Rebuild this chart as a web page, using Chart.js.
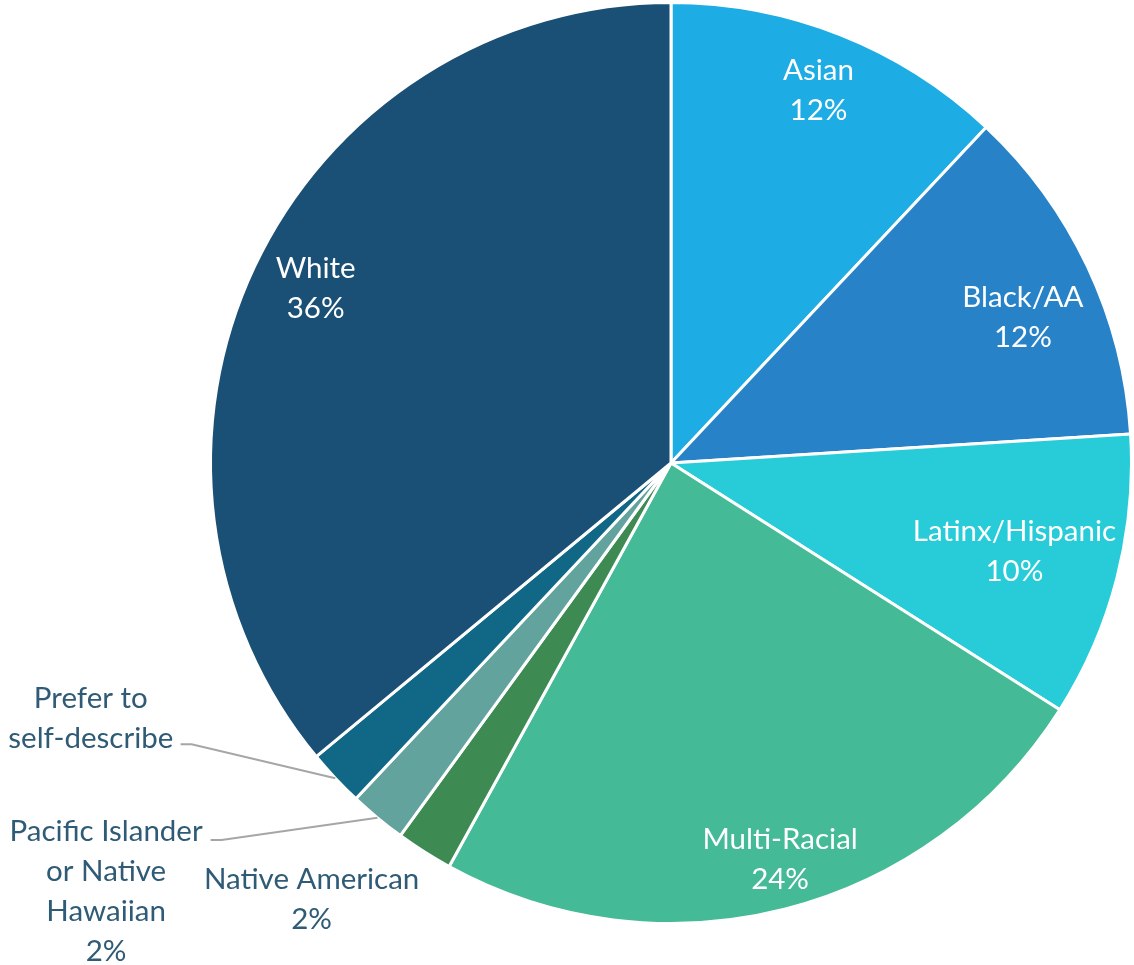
<!DOCTYPE html>
<html>
<head>
<meta charset="utf-8">
<script src="https://cdn.jsdelivr.net/npm/chart.js@4.4.0/dist/chart.umd.min.js"></script>
<style>
html,body{margin:0;padding:0;background:#fff;}
#wrap{width:1134px;height:965px;position:relative;}
</style>
</head>
<body>
<div id="wrap"><canvas id="c" width="1134" height="965"></canvas></div>
<script>
const categories = ["Asian", "Black/AA", "Latinx/Hispanic", "Multi-Racial", "Native American", "Pacific Islander or Native Hawaiian", "Prefer to self-describe", "White"];
const values = [12, 12, 10, 24, 2, 2, 2, 36];
const colors = ["#1EACE4", "#2882C7", "#28CCD8", "#44BA96", "#3E8A53", "#63A39E", "#116886", "#1A5075"];

// label text lines per slice
const labelLines = [
  ["Asian"], ["Black/AA"], ["Latinx/Hispanic"], ["Multi-Racial"],
  ["Native American"], ["Pacific Islander", "or Native", "Hawaiian"], ["Prefer to", "self-describe"], ["White"]
];
const showPercent = [true, true, true, true, true, true, false, true];

// placement: r = fraction of radius, da = angle offset (deg) from slice middle
const placement = [
  {r:0.87, da:0, inside:true},
  {r:0.827, da:2.7, inside:true},
  {r:0.77, da:0, inside:true},
  {r:0.892, da:-1, inside:true},
  {r:1.227, da:7.1, inside:false},
  {r:1.54, da:13.2, inside:false, elbow:{r:1.274, da:10.4}},
  {r:1.377, da:19.4, inside:false, elbow:{r:1.207, da:12.8}},
  {r:0.86, da:1, inside:true}
];

const FONT = '29.5px Lato';
const LINE_H = 40;

const labelPlugin = {
  id: 'pieLabels',
  afterDatasetsDraw(chart) {
    const ctx = chart.ctx;
    const meta = chart.getDatasetMeta(0);
    ctx.save();
    ctx.font = FONT;
    ctx.textAlign = 'center';
    ctx.textBaseline = 'middle';
    meta.data.forEach((arc, i) => {
      const p = placement[i];
      const mid = (arc.startAngle + arc.endAngle) / 2;
      const R = arc.outerRadius;
      const a = mid + p.da * Math.PI / 180;
      const x = arc.x + Math.cos(a) * R * p.r;
      const y = arc.y + Math.sin(a) * R * p.r;
      const lines = labelLines[i].slice();
      if (showPercent[i]) lines.push(values[i] + '%');
      ctx.fillStyle = p.inside ? '#FFFFFF' : '#2F5B76';
      const y0 = y - (lines.length - 1) * LINE_H / 2;
      lines.forEach((t, k) => ctx.fillText(t, x, y0 + k * LINE_H));
      if (p.elbow) {
        const ea = mid + p.elbow.da * Math.PI / 180;
        const ex = arc.x + Math.cos(ea) * R * p.elbow.r;
        const ey = arc.y + Math.sin(ea) * R * p.elbow.r;
        const sx = arc.x + Math.cos(mid) * R;
        const sy = arc.y + Math.sin(mid) * R;
        ctx.strokeStyle = '#A6A6A6';
        ctx.lineWidth = 2;
        ctx.beginPath();
        ctx.moveTo(ex - 11, ey);
        ctx.lineTo(ex, ey);
        ctx.lineTo(sx, sy);
        ctx.stroke();
      }
    });
    ctx.restore();
  }
};

new Chart(document.getElementById('c'), {
  type: 'pie',
  data: {
    labels: categories,
    datasets: [{
      data: values,
      backgroundColor: colors,
      borderColor: '#FFFFFF',
      borderWidth: 3
    }]
  },
  options: {
    responsive: false,
    animation: false,
    layout: { padding: { left: 209, right: 1, top: 1, bottom: 40 } },
    plugins: {
      legend: { display: false },
      tooltip: { enabled: false }
    }
  },
  plugins: [labelPlugin]
});
</script>
</body>
</html>
